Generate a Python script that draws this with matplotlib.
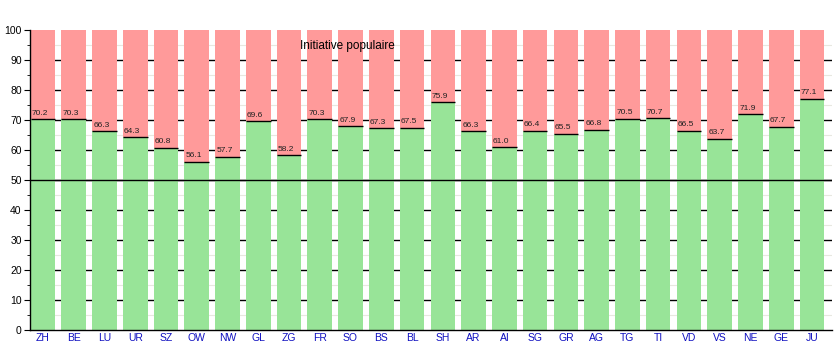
import numpy as np
import matplotlib
matplotlib.use('Agg')
import matplotlib.pyplot as plt

plt.rcParams['font.family'] = ['Liberation Sans', 'DejaVu Sans']

# cantons and "yes" share (%)
cantons = ['ZH', 'BE', 'LU', 'UR', 'SZ', 'OW', 'NW', 'GL', 'ZG', 'FR', 'SO', 'BS', 'BL',
           'SH', 'AR', 'AI', 'SG', 'GR', 'AG', 'TG', 'TI', 'VD', 'VS', 'NE', 'GE', 'JU']
oui = [70.2, 70.3, 66.3, 64.3, 60.8, 56.1, 57.7, 69.6, 58.2, 70.3, 67.9, 67.3, 67.5,
       75.9, 66.3, 61.0, 66.4, 65.5, 66.8, 70.5, 70.7, 66.5, 63.7, 71.9, 67.7, 77.1]
title = 'Initiative populaire'

x = np.arange(len(cantons))
oui = np.array(oui)
non = 100 - oui
w = 0.8

fig = plt.figure(figsize=(8.35, 3.5), dpi=100)
ax = fig.add_axes([30/835, 20/350, 802/835, 300/350])

# grid behind bars
for y in range(10, 100, 10):
    ax.axhline(y, color='black', lw=1, zorder=0)
for y in range(5, 100, 10):
    ax.axhline(y, color='#e8e8e0', lw=0.8, zorder=0)

ax.bar(x, oui, w, color='#98e498', zorder=2)
ax.bar(x, non, w, bottom=oui, color='#ff9a9a', zorder=2)
ax.hlines(oui, x - w/2, x + w/2, color='black', lw=1, zorder=3)
ax.axhline(50, color='black', lw=1, zorder=4)

for xi, v in zip(x, oui):
    ax.text(xi - 0.1, v + 0.8, f'{v:.1f}', ha='center', va='bottom', fontsize=6, color='#222222', zorder=5)

ax.text(9.9, 94.7, title, ha='center', va='center', fontsize=8.5, zorder=5)

ax.set_xlim(-0.42, 25.65)
ax.set_ylim(0, 100)
ax.set_yticks(range(0, 101, 10))
ax.set_yticks(range(5, 100, 10), minor=True)
ax.tick_params(axis='y', which='major', length=4, labelsize=7.5, pad=2)
ax.tick_params(axis='y', which='minor', length=2)
ax.set_xticks(x)
ax.set_xticklabels(cantons, color='#1010c0', fontsize=7.5)
ax.tick_params(axis='x', length=0, pad=2)
for s in ['top', 'right']:
    ax.spines[s].set_visible(False)
ax.spines['left'].set_linewidth(1)
ax.spines['bottom'].set_linewidth(1)

fig.savefig('out.png', dpi=100)
